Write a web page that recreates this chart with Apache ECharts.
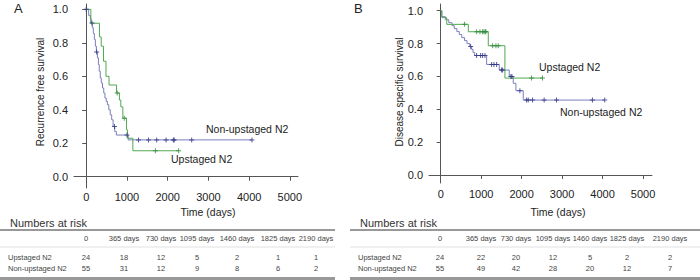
<!DOCTYPE html>
<html lang="en">
<head>
<meta charset="UTF-8">
<title>Kaplan-Meier curves</title>
<script src="https://cdn.jsdelivr.net/npm/echarts@6/dist/echarts.min.js"></script>
<style>body{margin:0;background:#fff;}</style>
</head>
<body>
<div id="main" style="width:700px;height:280px;"></div>
<script>
// A: recurrence free survival (step points: time in days, survival after that time)
var rfsUpTime = [0, 114, 325, 368, 425, 485, 560, 745, 815, 850, 900, 990, 1015, 1145, 2270];
var rfsUpSurv = [1, 0.917, 0.835, 0.78, 0.69, 0.6, 0.548, 0.5, 0.458, 0.417, 0.35, 0.28, 0.23, 0.155, 0.155];
var rfsUpCens = [760, 935, 1700, 2270];

var rfsNonTime = [0, 60, 100, 120, 150, 175, 200, 225, 250, 275, 300, 320, 345, 370, 400, 430, 460, 490, 520, 555, 590, 625, 660, 700, 740, 1030, 4070];
var rfsNonSurv = [1, 0.964, 0.945, 0.918, 0.89, 0.855, 0.82, 0.78, 0.745, 0.71, 0.67, 0.63, 0.59, 0.56, 0.53, 0.5, 0.47, 0.45, 0.43, 0.4, 0.37, 0.34, 0.3, 0.27, 0.249, 0.22, 0.22];
var rfsNonCens = [0, 140, 255, 695, 1000, 1285, 1530, 1730, 1960, 2140, 2160, 2590, 4070];

// B: disease specific survival
var dssUpTime = [0, 30, 150, 683, 1176, 1587, 2516];
var dssUpSurv = [1, 0.958, 0.917, 0.872, 0.787, 0.59, 0.59];
var dssUpCens = [590, 888, 970, 1036, 1069, 1100, 1118, 1283, 1365, 1423, 2245, 2516];

var dssNonTime = [0, 25, 115, 200, 280, 335, 400, 460, 520, 590, 650, 720, 765, 800, 840, 1135, 1447, 1694, 1793, 1859, 2040, 4054];
var dssNonSurv = [1, 0.964, 0.945, 0.927, 0.909, 0.891, 0.873, 0.855, 0.836, 0.818, 0.8, 0.782, 0.764, 0.745, 0.727, 0.673, 0.639, 0.6, 0.558, 0.513, 0.456, 0.456];
var dssNonCens = [740, 888, 987, 1036, 1094, 1258, 1316, 1382, 1505, 1530, 1735, 1760, 1957, 2122, 2163, 2270, 2557, 2862, 3750, 4054];

// numbers at risk
var riskHeads = ['0', '365 days', '730 days', '1095 days', '1460 days', '1825 days', '2190 days'];
var riskGroups = ['Upstaged N2', 'Non-upstaged N2'];
var riskUpA = [24, 18, 12, 5, 2, 1, 1];
var riskNonA = [55, 31, 12, 9, 8, 6, 2];
var riskUpB = [24, 22, 20, 12, 5, 2, 2];
var riskNonB = [55, 49, 42, 28, 20, 12, 7];

var xTicks = [0, 1000, 2000, 3000, 4000, 5000];
var yTicks = [0, 0.2, 0.4, 0.6, 0.8, 1.0];

var greenLine = '#52a852', greenMark = '#2f8a3c';
var blueLine = '#7a7fbd', blueMark = '#2c3282';
var txt = '#222';
var font = 'Liberation Sans, Arial, sans-serif';
var plus = 'path://M2,0H3V2H5V3H3V5H2V3H0V2H2Z';

function steps(t, s) {
    return t.map(function (v, i) { return [v, s[i]]; });
}
function survAt(t, s, x) {
    var v = s[0];
    for (var i = 0; i < t.length; i++) { if (t[i] <= x) v = s[i]; }
    return v;
}
function cens(t, s, c) {
    return c.map(function (x) { return [x, survAt(t, s, x)]; });
}

function xAx(idx, min, max, margin) {
    return {
        gridIndex: idx, type: 'value', min: min, max: max,
        axisLine: {lineStyle: {color: '#555', width: 1}},
        axisTick: {length: 4, customValues: xTicks, lineStyle: {color: '#555'}},
        axisLabel: {customValues: xTicks, margin: margin, color: txt, fontSize: 11, fontFamily: font,
            formatter: function (v) { return String(v); }},
        splitLine: {show: false}
    };
}
function yAx(idx, min, max) {
    return {
        gridIndex: idx, type: 'value', min: min, max: max,
        axisLine: {show: true, lineStyle: {color: '#555', width: 1}},
        axisTick: {show: true, length: 4, customValues: yTicks, lineStyle: {color: '#555'}},
        axisLabel: {customValues: yTicks, margin: 6, color: txt, fontSize: 11, fontFamily: font,
            formatter: function (v) { return v.toFixed(1); }},
        splitLine: {show: false}
    };
}
function km(idx, data, color) {
    return {type: 'line', xAxisIndex: idx, yAxisIndex: idx, step: 'end', data: data,
        symbol: 'none', lineStyle: {color: color, width: 1}, silent: true, z: 2};
}
function marks(idx, data, color) {
    return {type: 'scatter', xAxisIndex: idx, yAxisIndex: idx, data: data, symbol: plus,
        symbolSize: 5, itemStyle: {color: color}, silent: true, z: 3};
}
function label(x, y, s, size, extra) {
    var style = {text: s, x: 0, y: 0, fill: txt, fontSize: size, fontFamily: font,
        textAlign: 'left', textVerticalAlign: 'middle'};
    for (var k in extra) style[k] = extra[k];
    return {type: 'text', x: x, y: y, style: style, silent: true};
}

// table drawn with graphic elements
function table(x0, x1, labelX, colX, rowUp, rowNon) {
    var g = [];
    g.push(label(x0 + 10, 223, 'Numbers at risk', 11, {fill: '#333'}));
    g.push({type: 'line', shape: {x1: x0, y1: 230, x2: x1, y2: 230}, style: {stroke: '#333', lineWidth: 1}});
    g.push({type: 'line', shape: {x1: x0, y1: 247, x2: x1, y2: 247}, style: {stroke: '#ccc', lineWidth: 0.6}});
    g.push({type: 'line', shape: {x1: x0, y1: 278.5, x2: x1, y2: 278.5}, style: {stroke: '#999', lineWidth: 3}});
    riskHeads.forEach(function (h, i) {
        g.push(label(colX[i], 238.5, h, 7.5, {textAlign: 'center', fill: '#444'}));
    });
    g.push(label(labelX, 257, riskGroups[0], 7.5, {fill: '#444'}));
    g.push(label(labelX, 268, riskGroups[1], 7.5, {fill: '#444'}));
    rowUp.forEach(function (v, i) {
        g.push(label(colX[i], 257, String(v), 7.5, {textAlign: 'center', fill: '#444'}));
    });
    rowNon.forEach(function (v, i) {
        g.push(label(colX[i], 268, String(v), 7.5, {textAlign: 'center', fill: '#444'}));
    });
    return g;
}

var graphics = [
    label(14, 8, 'A', 13, {}),
    label(354, 8, 'B', 13, {}),
    label(40, 92, 'Recurrence free survival', 10, {textAlign: 'center'}),
    label(399, 92, 'Disease specific survival', 10, {textAlign: 'center'}),
    label(208, 212, 'Time (days)', 10.5, {textAlign: 'center'}),
    label(558, 212, 'Time (days)', 10.5, {textAlign: 'center'}),
    label(206, 129, 'Non-upstaged N2', 10.5, {}),
    label(171, 159, 'Upstaged N2', 10.5, {}),
    label(539, 67, 'Upstaged N2', 10.5, {}),
    label(560, 112, 'Non-upstaged N2', 10.5, {})
];
graphics[2].rotation = Math.PI / 2;
graphics[3].rotation = Math.PI / 2;
graphics = graphics.concat(
    table(0, 335, 8, [86, 124, 161, 197, 237, 278, 316], riskUpA, riskNonA),
    table(350, 700, 358, [440, 481, 516, 553, 590, 627, 670], riskUpB, riskNonB)
);

var chart = echarts.init(document.getElementById('main'), null, {renderer: 'svg'});
chart.setOption({
    animation: false,
    backgroundColor: '#fff',
    grid: [
        {left: 74, top: 4, width: 224, height: 184},
        {left: 429, top: 4, width: 223, height: 179}
    ],
    xAxis: [xAx(0, -300, 5200, 3), xAx(1, -289, 5222, 5)],
    yAxis: [yAx(0, -0.0675, 1.032), yAx(1, -0.049, 1.041)],
    series: [
        km(0, steps(rfsNonTime, rfsNonSurv), blueLine),
        km(0, steps(rfsUpTime, rfsUpSurv), greenLine),
        marks(0, cens(rfsNonTime, rfsNonSurv, rfsNonCens), blueMark),
        marks(0, cens(rfsUpTime, rfsUpSurv, rfsUpCens), greenMark),
        km(1, steps(dssNonTime, dssNonSurv), blueLine),
        km(1, steps(dssUpTime, dssUpSurv), greenLine),
        marks(1, cens(dssNonTime, dssNonSurv, dssNonCens), blueMark),
        marks(1, cens(dssUpTime, dssUpSurv, dssUpCens), greenMark)
    ],
    graphic: graphics
});
</script>
</body>
</html>
